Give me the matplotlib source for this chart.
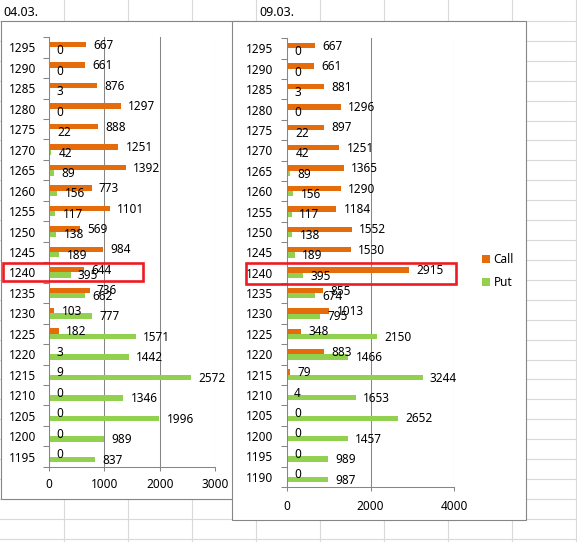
import numpy as np
import matplotlib
matplotlib.use("Agg")
import matplotlib.pyplot as plt
from matplotlib.patches import Rectangle
from matplotlib.lines import Line2D

plt.rcParams["font.family"] = ["Noto Sans", "DejaVu Sans"]

# 04.03. (strikes listed top to bottom)
strikes_0403 = [1295, 1290, 1285, 1280, 1275, 1270, 1265, 1260, 1255, 1250, 1245,
                1240, 1235, 1230, 1225, 1220, 1215, 1210, 1205, 1200, 1195]
call_0403 = [667, 661, 876, 1297, 888, 1251, 1392, 773, 1101, 569, 984,
             644, 736, 103, 182, 3, 9, 0, 0, 0, 0]
put_0403 = [0, 0, 3, 0, 22, 42, 89, 156, 117, 138, 189,
            395, 662, 777, 1571, 1442, 2572, 1346, 1996, 989, 837]

# 09.03.
strikes_0903 = [1295, 1290, 1285, 1280, 1275, 1270, 1265, 1260, 1255, 1250, 1245,
                1240, 1235, 1230, 1225, 1220, 1215, 1210, 1205, 1200, 1195, 1190]
call_0903 = [667, 661, 881, 1296, 897, 1251, 1365, 1290, 1184, 1552, 1530,
             2915, 855, 1013, 348, 883, 79, 4, 0, 0, 0, 0]
put_0903 = [0, 0, 3, 0, 22, 42, 89, 156, 117, 138, 189,
            395, 674, 795, 2150, 1466, 3244, 1653, 2652, 1457, 989, 987]

ORANGE = "#E46C0A"
GREEN = "#92D050"
AXC = "#868686"
CELL = "#D9D9D9"
RED = "#ED1C24"
FS = 8.5

W, H = 577, 542
fig = plt.figure(figsize=(W / 100, H / 100), dpi=100)


def fx(x):
    return x / W


def fy(y):
    return 1 - y / H


def box(x0, y0, x1, y1, **kw):
    r = Rectangle((fx(x0), fy(y1)), (x1 - x0) / W, (y1 - y0) / H,
                  transform=fig.transFigure, **kw)
    fig.add_artist(r)


# spreadsheet cells
for k in range(1, 10):
    fig.add_artist(Line2D([fx(64 * k)] * 2, [0, 1], transform=fig.transFigure,
                          color=CELL, lw=0.8, zorder=0.1))
for k in range(27):
    yy = 20.9 + 19.92 * k
    fig.add_artist(Line2D([0, 1], [fy(yy)] * 2, transform=fig.transFigure,
                          color=CELL, lw=0.8, zorder=0.1))
fig.text(fx(3), fy(12.5), "04.03.", va="center", ha="left", fontsize=9, zorder=1)
fig.text(fx(259), fy(12.5), "09.03.", va="center", ha="left", fontsize=9, zorder=1)


def chart(ax, strikes, call, put, xmax, step, ypad, xpad):
    n = len(strikes)
    y = np.arange(n)[::-1]
    h = 0.264
    bc = ax.barh(y + h / 2, call, height=h, color=ORANGE, label="Call", zorder=2)
    bp = ax.barh(y - h / 2, put, height=h, color=GREEN, label="Put", zorder=2)
    for bars, vals in ((bc, call), (bp, put)):
        for rect, v in zip(bars, vals):
            ax.annotate(str(v), (v, rect.get_y() + rect.get_height() / 2),
                        xytext=(5.3, -0.5), textcoords="offset points",
                        ha="left", va="center", fontsize=FS,
                        annotation_clip=False, zorder=3)
    ax.set_xlim(0, xmax)
    ax.set_ylim(-0.5, n - 0.5)
    ax.set_xticks(np.arange(0, xmax + 1, step))
    ax.set_yticks(y)
    ax.set_yticklabels([str(s) for s in strikes])
    ax.set_yticks(np.arange(-0.5, n), minor=True)
    ax.tick_params(axis="y", which="major", length=0, pad=ypad, labelsize=FS)
    ax.tick_params(axis="y", which="minor", length=4, width=0.75, color=AXC)
    ax.tick_params(axis="x", length=3, width=0.75, color=AXC, pad=xpad, labelsize=FS)
    ax.grid(axis="x", color=AXC, lw=0.75, zorder=1)
    ax.set_axisbelow(True)
    for s in ("top", "right"):
        ax.spines[s].set_visible(False)
    for s in ("left", "bottom"):
        ax.spines[s].set_color(AXC)
        ax.spines[s].set_linewidth(0.75)
    ax.patch.set_visible(False)
    return bc, bp


# left chart
box(0.5, 20.9, 240, 498.8, facecolor="white", edgecolor=AXC, lw=0.8, zorder=0.2)
ax1 = fig.add_axes([fx(48.7), fy(466.9), (215.2 - 48.7) / W, (466.9 - 37.1) / H])
ax1.set_zorder(0.3)
chart(ax1, strikes_0403, call_0403, put_0403, 3000, 1000, 9, 4.8)

# right chart
box(232, 20.9, 526, 519.5, facecolor="white", edgecolor=AXC, lw=0.8, zorder=0.4)
ax2 = fig.add_axes([fx(286.7), fy(486.9), (454.3 - 286.7) / W, (486.9 - 38.1) / H])
ax2.set_zorder(0.5)
bc, bp = chart(ax2, strikes_0903, call_0903, put_0903, 4000, 2000, 9.8, 6.6)
ax2.legend(handles=[bc, bp], loc="center left", bbox_to_anchor=(fx(482.3), fy(271)),
           bbox_transform=fig.transFigure, frameon=False, handlelength=0.64,
           handleheight=0.64, handletextpad=0.3, labelspacing=0.85, borderpad=0,
           borderaxespad=0, fontsize=FS)

# highlight boxes
box(2.7, 262.7, 142.7, 281.3, facecolor="none", edgecolor=RED, lw=1.9, zorder=1)
box(245.7, 262.7, 456, 284, facecolor="none", edgecolor=RED, lw=1.9, zorder=1)

fig.savefig("out.png", dpi=100)
